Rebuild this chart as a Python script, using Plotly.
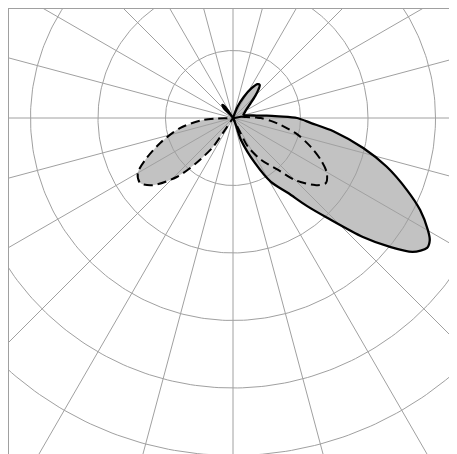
import numpy as np
import plotly.graph_objects as go

# ---- data (polar: angle in degrees, radius in grid units) ----
solid_theta = [140, 133, 129, 125, 118,
               75, 68, 63, 58, 54, 51, 48, 45, 40, 33, 25, 17,
               10, 6, 4, 2, 0, -3.7, -7.5, -13, -17.6, -22.5, -26.2, -29.9, -31.8,
               -33.8, -36.7, -39.4, -42.5, -46.6, -50, -53.7, -59.3, -64, -70, -75]
solid_r = [0.0, 0.2, 0.25, 0.2, 0.0,
           0.0, 0.18, 0.35, 0.52, 0.62, 0.63, 0.56, 0.47, 0.34, 0.24, 0.19, 0.16,
           0.22, 0.35, 0.5, 0.68, 0.95, 1.16, 1.5, 1.98, 2.39, 2.79, 3.09, 3.33, 3.43,
           3.46, 3.32, 3.01, 2.61, 2.04, 1.70, 1.38, 1.10, 0.74, 0.35, 0.0]

dashed_theta = [10, 8, 4, 1, 0, -4, -8.3, -14.7, -20.4, -25.5, -30.3, -35, -39.3,
                -45, -49, -56, -62.6, -63.5, -64,
                -124, -124, -124.6, -129, -133.5, -140, -145, -150, -154.5, -161.1,
                -169.3, -176.2, -178, -182]
dashed_r = [0.0, 0.12, 0.2, 0.35, 0.41, 0.55, 0.72, 1.0, 1.23, 1.44, 1.61, 1.68, 1.57,
            1.30, 1.02, 0.75, 0.48, 0.22, 0.0,
            0.0, 0.27, 0.52, 0.85, 1.20, 1.55, 1.68, 1.63, 1.44, 1.14,
            0.80, 0.445, 0.25, 0.0]

grid_radii = [1, 2, 3, 4, 5, 6, 7]
grid_angles = list(range(0, 360, 15))


def to_xy(theta, r):
    t = np.radians(np.asarray(theta, dtype=float))
    r = np.asarray(r, dtype=float)
    return r * np.cos(t), r * np.sin(t)


sx, sy = to_xy(solid_theta, solid_r)
dx, dy = to_xy(dashed_theta, dashed_r)

# grid geometry
cx, cy = [], []
phi = np.linspace(0, 2 * np.pi, 361)
for R in grid_radii:
    cx += list(R * np.cos(phi)) + [None]
    cy += list(R * np.sin(phi)) + [None]
rx, ry = [], []
for a in grid_angles:
    ex, ey = to_xy([a], [max(grid_radii)])
    rx += [0, ex[0], None]
    ry += [0, ey[0], None]

FILL = "#c2c2c2"
GRID = "#a0a0a0"

fig = go.Figure()
# fills
fig.add_trace(go.Scatter(x=sx, y=sy, mode="lines", fill="toself", fillcolor=FILL,
                         line=dict(width=0, shape="spline", smoothing=0.8),
                         hoverinfo="skip", showlegend=False))
fig.add_trace(go.Scatter(x=dx, y=dy, mode="lines", fill="toself", fillcolor=FILL,
                         line=dict(width=0, shape="spline", smoothing=0.8),
                         hoverinfo="skip", showlegend=False))
# grid
fig.add_trace(go.Scatter(x=cx, y=cy, mode="lines", line=dict(color=GRID, width=1),
                         hoverinfo="skip", showlegend=False))
fig.add_trace(go.Scatter(x=rx, y=ry, mode="lines", line=dict(color=GRID, width=1),
                         hoverinfo="skip", showlegend=False))
# outlines
fig.add_trace(go.Scatter(x=dx, y=dy, mode="lines",
                         line=dict(color="black", width=2, dash="9px,5px",
                                   shape="spline", smoothing=0.8),
                         hoverinfo="skip", showlegend=False))
fig.add_trace(go.Scatter(x=sx, y=sy, mode="lines",
                         line=dict(color="black", width=2.3,
                                   shape="spline", smoothing=0.8),
                         hoverinfo="skip", showlegend=False))

# page has an 8px body margin; the plot area spans page x 8..452, y 8..454
unit = 67.5
W, H = 449, 446
fig.update_layout(
    width=W, height=H,
    margin=dict(l=0, r=5, t=0, b=0),
    paper_bgcolor="white", plot_bgcolor="white",
    xaxis=dict(range=[(8 - 233) / unit, (452 - 233) / unit], visible=False, fixedrange=True),
    yaxis=dict(range=[(118 - 454) / unit, (118 - 8) / unit], visible=False, fixedrange=True),
    shapes=[
        dict(type="line", xref="paper", yref="paper", x0=0.5 / 444, x1=0.5 / 444, y0=0, y1=1,
             line=dict(color=GRID, width=1)),
        dict(type="line", xref="paper", yref="paper", x0=0, x1=1, y0=1 - 0.5 / 446, y1=1 - 0.5 / 446,
             line=dict(color=GRID, width=1)),
        dict(type="line", xref="paper", yref="paper", x0=1, x1=1, y0=0, y1=1,
             line=dict(color=GRID, width=1)),
    ],
)
fig.write_html("out.html")
